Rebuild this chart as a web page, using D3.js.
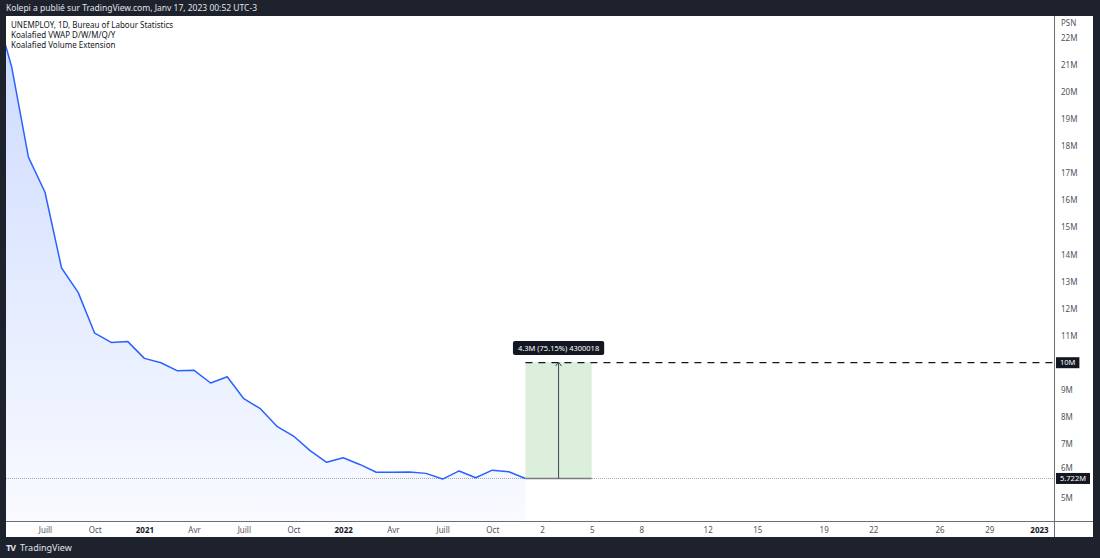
<!DOCTYPE html>
<html>
<head>
<meta charset="utf-8">
<script src="https://cdn.jsdelivr.net/npm/d3@7"></script>
<style>
  body { margin: 0; background: #1e222d; }
  svg { display: block; font-family: "Noto Sans", "DejaVu Sans", sans-serif; }
</style>
</head>
<body>
<div id="chart-area"></div>
<script>
// monthly data (millions), one bar per month
const months = ["2020-04", "2020-05", "2020-06", "2020-07", "2020-08", "2020-09", "2020-10", "2020-11", "2020-12",
    "2021-01", "2021-02", "2021-03", "2021-04", "2021-05", "2021-06", "2021-07", "2021-08", "2021-09", "2021-10", "2021-11", "2021-12",
    "2022-01", "2022-02", "2022-03", "2022-04", "2022-05", "2022-06", "2022-07", "2022-08", "2022-09", "2022-10", "2022-11", "2022-12"]
const unemployed = [23.1, 20.9, 17.6, 16.3, 13.5, 12.6, 11.09, 10.75, 10.78,
    10.16, 10.0, 9.70, 9.72, 9.25, 9.48, 8.67, 8.30, 7.65, 7.29, 6.75, 6.32,
    6.49, 6.24, 5.95, 5.95, 5.96, 5.91, 5.70, 6.0, 5.75, 6.03, 5.97, 5.722]

// future (empty) daily slots after the last bar
const futureDays = ["2022-12-02", "2022-12-03", "2022-12-04", "2022-12-05", "2022-12-06", "2022-12-07", "2022-12-08",
    "2022-12-09", "2022-12-10", "2022-12-11", "2022-12-12", "2022-12-13", "2022-12-14", "2022-12-15", "2022-12-16",
    "2022-12-17", "2022-12-18", "2022-12-19", "2022-12-20", "2022-12-21", "2022-12-22", "2022-12-23", "2022-12-24",
    "2022-12-25", "2022-12-26", "2022-12-27", "2022-12-28", "2022-12-29", "2022-12-30", "2022-12-31", "2023-01-01"]

// time axis ticks
const xTickSlots = ["2020-07", "2020-10", "2021-01", "2021-04", "2021-07", "2021-10", "2022-01", "2022-04", "2022-07", "2022-10",
    "2022-12-02", "2022-12-05", "2022-12-08", "2022-12-12", "2022-12-15", "2022-12-19", "2022-12-22", "2022-12-26", "2022-12-29", "2023-01-01"]
const xTickLabels = ["Juill", "Oct", "2021", "Avr", "Juill", "Oct", "2022", "Avr", "Juill", "Oct",
    "2", "5", "8", "12", "15", "19", "22", "26", "29", "2023"]
const yTicks = [5, 6, 7, 8, 9, 10, 11, 12, 13, 14, 15, 16, 17, 18, 19, 20, 21, 22]

// measure tool + horizontal ray
const measureFrom = "2022-12"
const measureTo = "2022-12-05"
const measureBase = 5.722
const measureChange = 4.300018
const rayLevel = 10

const legendLines = ["UNEMPLOY, 1D, Bureau of Labour Statistics", "Koalafied VWAP D/W/M/Q/Y", "Koalafied Volume Extension"]

class TVChart {
    constructor(_parentElement) {
        this.parentElement = _parentElement
        this.initVis()
    }

    initVis() {
        const vis = this
        vis.W = 1100
        vis.H = 558
        vis.PANEL = { LEFT: 6, TOP: 16, RIGHT: 1093, BOTTOM: 537 }
        vis.PLOT = { LEFT: 6, TOP: 16, RIGHT: 1054, BOTTOM: 521 }

        vis.svg = d3.select(vis.parentElement).append("svg")
            .attr("width", vis.W)
            .attr("height", vis.H)

        vis.svg.append("rect").attr("width", vis.W).attr("height", vis.H).attr("fill", "#1e222d")
        vis.svg.append("rect")
            .attr("x", vis.PANEL.LEFT).attr("y", vis.PANEL.TOP)
            .attr("width", vis.PANEL.RIGHT - vis.PANEL.LEFT)
            .attr("height", vis.PANEL.BOTTOM - vis.PANEL.TOP)
            .attr("fill", "#ffffff")

        vis.svg.append("text")
            .attr("x", 6).attr("y", 8).attr("dy", "0.35em")
            .attr("font-size", "8.5px").attr("fill", "#e0e3eb")
            .text("Kolepi a publié sur TradingView.com, Janv 17, 2023 00:52 UTC-3")

        // slots: months then days
        vis.slots = months.concat(futureDays)
        vis.slotIndex = new Map(vis.slots.map((s, i) => [s, i]))

        vis.x = d3.scaleLinear().domain([3, 63]).range([45, 1039])
        vis.y = d3.scaleLinear().domain([5, 22]).range([498, 38])

        vis.svg.append("clipPath").attr("id", "plotClip")
            .append("rect")
            .attr("x", vis.PLOT.LEFT).attr("y", vis.PLOT.TOP)
            .attr("width", vis.PLOT.RIGHT - vis.PLOT.LEFT)
            .attr("height", vis.PLOT.BOTTOM - vis.PLOT.TOP)

        const grad = vis.svg.append("defs").append("linearGradient")
            .attr("id", "areaGrad")
            .attr("gradientUnits", "userSpaceOnUse")
            .attr("x1", 0).attr("x2", 0)
            .attr("y1", vis.PLOT.TOP).attr("y2", vis.PLOT.BOTTOM)
        grad.append("stop").attr("offset", "0%").attr("stop-color", "#2962ff").attr("stop-opacity", 0.24)
        grad.append("stop").attr("offset", "100%").attr("stop-color", "#2962ff").attr("stop-opacity", 0.03)

        vis.g = vis.svg.append("g").attr("clip-path", "url(#plotClip)")

        vis.wrangleData()
    }

    wrangleData() {
        const vis = this
        vis.data = months.map((m, i) => ({ slot: m, value: unemployed[i] }))
        vis.updateVis()
    }

    updateVis() {
        const vis = this
        const xs = d => vis.x(vis.slotIndex.get(d.slot))

        // area + line
        const area = d3.area().x(xs).y0(vis.PLOT.BOTTOM).y1(d => vis.y(d.value))
        const line = d3.line().x(xs).y(d => vis.y(d.value))
        vis.g.append("path").attr("d", area(vis.data)).attr("fill", "url(#areaGrad)")

        // last value price line (dotted)
        const last = vis.data[vis.data.length - 1]
        vis.g.append("line")
            .attr("x1", vis.PLOT.LEFT).attr("x2", vis.PLOT.RIGHT)
            .attr("y1", vis.y(last.value)).attr("y2", vis.y(last.value))
            .attr("stroke", "#a3a6af").attr("stroke-width", 1)
            .attr("stroke-dasharray", "1,1")

        // measure box
        const mx0 = vis.x(vis.slotIndex.get(measureFrom))
        const mx1 = vis.x(vis.slotIndex.get(measureTo))
        const myBase = vis.y(measureBase)
        const myTop = vis.y(measureBase + measureChange)
        vis.g.append("rect")
            .attr("x", mx0).attr("y", myTop)
            .attr("width", mx1 - mx0).attr("height", myBase - myTop)
            .attr("fill", "rgba(76,175,80,0.2)")
        vis.g.append("line")
            .attr("x1", mx0).attr("x2", mx1).attr("y1", myBase).attr("y2", myBase)
            .attr("stroke", "#787b86").attr("stroke-width", 1.5)

        // horizontal ray
        vis.g.append("line")
            .attr("x1", mx0).attr("x2", vis.PLOT.RIGHT)
            .attr("y1", vis.y(rayLevel)).attr("y2", vis.y(rayLevel))
            .attr("stroke", "#131722").attr("stroke-width", 1.2)
            .attr("stroke-dasharray", "7,6")

        const mxMid = (mx0 + mx1) / 2
        vis.g.append("line")
            .attr("x1", mxMid).attr("x2", mxMid).attr("y1", myBase).attr("y2", myTop)
            .attr("stroke", "#434651").attr("stroke-width", 1)
        vis.g.append("path")
            .attr("d", `M${mxMid - 3},${myTop + 4}L${mxMid},${myTop}L${mxMid + 3},${myTop + 4}`)
            .attr("fill", "none").attr("stroke", "#434651").attr("stroke-width", 1)

        vis.g.append("path").attr("d", line(vis.data))
            .attr("fill", "none").attr("stroke", "#2962ff").attr("stroke-width", 1.5)
            .attr("stroke-linejoin", "round")

        // measure label (box sized to the text)
        const fmtPct = d3.format(".2f")
        const labelText = `${d3.format(".1f")(measureChange)}M (${fmtPct(measureChange / measureBase * 100)}%) ${Math.round(measureChange * 1e6)}`
        const lbl = vis.svg.append("g").attr("transform", `translate(${mxMid}, ${myTop - 14})`)
        const lblRect = lbl.append("rect").attr("y", -7).attr("height", 14)
            .attr("rx", 2).attr("fill", "#131722")
        const lblText = lbl.append("text").attr("text-anchor", "middle").attr("dy", "0.35em")
            .attr("font-size", "7.5px").attr("fill", "#ffffff").text(labelText)
        const lw = lblText.node().getComputedTextLength() + 10
        lblRect.attr("x", -lw / 2).attr("width", lw)

        // axis frame lines
        vis.svg.append("line")
            .attr("x1", vis.PLOT.RIGHT + 0.5).attr("x2", vis.PLOT.RIGHT + 0.5)
            .attr("y1", vis.PANEL.TOP).attr("y2", vis.PANEL.BOTTOM)
            .attr("stroke", "#6a6d78").attr("stroke-width", 1)
        vis.svg.append("line")
            .attr("x1", vis.PANEL.LEFT).attr("x2", vis.PANEL.RIGHT)
            .attr("y1", vis.PLOT.BOTTOM + 0.5).attr("y2", vis.PLOT.BOTTOM + 0.5)
            .attr("stroke", "#6a6d78").attr("stroke-width", 1)

        // right axis
        const yAxisCall = d3.axisRight(vis.y)
            .tickValues(yTicks)
            .tickSize(0).tickPadding(7)
            .tickFormat(d => d + "M")
        const yAxis = vis.svg.append("g")
            .attr("transform", `translate(${vis.PLOT.RIGHT}, 0)`)
            .call(yAxisCall)
        yAxis.select(".domain").remove()
        yAxis.selectAll("text").attr("font-size", "8px").attr("fill", "#50535e")
            .attr("font-family", "'Noto Sans', sans-serif")
        // the 6M label sits just above the last-value box
        yAxis.selectAll(".tick").filter(d => d === 6).select("text").attr("dy", "-0.05em")

        vis.svg.append("text")
            .attr("x", vis.PLOT.RIGHT + 7).attr("y", 23).attr("dy", "0.35em")
            .attr("font-size", "8px").attr("fill", "#50535e").text("PSN")

        // price labels on the axis
        const priceLabel = (val, txt) => {
            const pg = vis.svg.append("g").attr("transform", `translate(${vis.PLOT.RIGHT + 2}, ${vis.y(val)})`)
            const r = pg.append("rect").attr("x", 0).attr("y", -5.5).attr("height", 11)
                .attr("fill", "#131722")
            const t = pg.append("text").attr("x", 4).attr("dy", "0.35em")
                .attr("font-size", "7.5px").attr("fill", "#ffffff").text(txt)
            r.attr("width", t.node().getComputedTextLength() + 8)
        }
        priceLabel(rayLevel, rayLevel + "M")
        priceLabel(last.value, d3.format(".3f")(last.value) + "M")

        // bottom axis
        const xAxisCall = d3.axisBottom(vis.x)
            .tickValues(xTickSlots.map(s => vis.slotIndex.get(s)))
            .tickSize(0).tickPadding(6)
            .tickFormat((d, i) => xTickLabels[i])
        const xAxis = vis.svg.append("g")
            .attr("transform", `translate(0, ${vis.PLOT.BOTTOM})`)
            .call(xAxisCall)
        xAxis.select(".domain").remove()
        xAxis.selectAll("text").attr("font-size", "8px")
            .attr("font-family", "'Noto Sans', sans-serif")
            .attr("font-weight", (d, i) => /^\d{4}$/.test(xTickLabels[i]) ? "bold" : "normal")
            .attr("fill", (d, i) => /^\d{4}$/.test(xTickLabels[i]) ? "#131722" : "#50535e")

        // legend
        vis.svg.append("g").selectAll("text")
            .data(legendLines)
            .join("text")
            .attr("x", 11)
            .attr("y", (d, i) => 25 + i * 10)
            .attr("dy", "0.35em")
            .attr("font-size", "8px")
            .attr("fill", "#131722")
            .text(d => d)

        // footer logo
        vis.svg.append("text")
            .attr("x", 6).attr("y", 548).attr("dy", "0.35em")
            .attr("font-size", "9px").attr("font-weight", "bold").attr("letter-spacing", "-1px")
            .attr("fill", "#e0e3eb").text("TV")
        vis.svg.append("text")
            .attr("x", 20).attr("y", 548).attr("dy", "0.35em")
            .attr("font-size", "9px").attr("fill", "#e0e3eb").text("TradingView")
    }
}

const chart = new TVChart("#chart-area")
</script>
</body>
</html>
